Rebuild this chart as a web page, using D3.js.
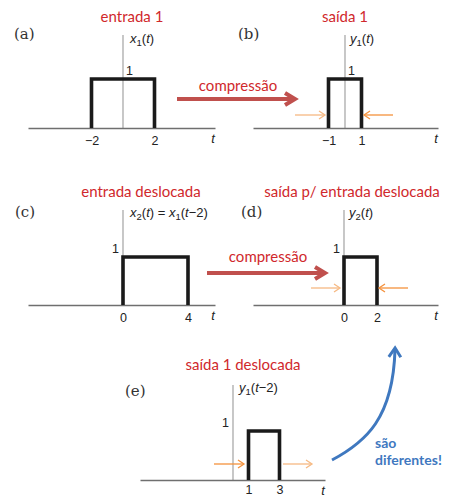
<!DOCTYPE html>
<html>
<head>
<meta charset="utf-8">
<script src="https://cdn.jsdelivr.net/npm/d3@7"></script>
<style>
  body { margin: 0; background: #fff; }
  svg { display: block; }
</style>
</head>
<body>
<script>
// Rectangular pulses and their time-axis ticks, one entry per panel
const panelIds = ["(a)", "(b)", "(c)", "(d)", "(e)"];
const panelTitles = ["entrada 1", "saída 1", "entrada deslocada", "saída p/ entrada deslocada", "saída 1 deslocada"];
const pulseStart = [-2, -1, 0, 0, 1];
const pulseEnd = [2, 1, 4, 2, 3];
const pulseHeight = [1, 1, 1, 1, 1];
const tickValues = [[-2, 2], [-1, 1], [0, 4], [0, 2], [1, 3]];
const amplitudeLabels = ["1", "1", "1", "1", "1"];
// signal names as [text, style] runs: i = italic, s = subscript
const signalNames = [
  [["x", "i"], ["1", "s"], ["(", ""], ["t", "i"], [")", ""]],
  [["y", "i"], ["1", "s"], ["(", ""], ["t", "i"], [")", ""]],
  [["x", "i"], ["2", "s"], ["(", ""], ["t", "i"], [") = ", ""], ["x", "i"], ["1", "s"], ["(", ""], ["t", "i"], ["−2)", ""]],
  [["y", "i"], ["2", "s"], ["(", ""], ["t", "i"], [")", ""]],
  [["y", "i"], ["1", "s"], ["(", ""], ["t", "i"], ["−2)", ""]]
];
const operationLabel = "compressão";
const remarkLines = ["são", "diferentes!"];

// Placement of each panel on the page
const layout = [
  { left: 28,  right: 215, origin: 123, unit: 15.75, base: 128, top: 79,  axisTop: 35,  oneSide: "right", pad: 8,   idX: 14,  idY: 39,  titleX: 132, titleY: 22,  nameX: 130, nameY: 43 },
  { left: 253, right: 438, origin: 345, unit: 16.5,  base: 128, top: 79,  axisTop: 35,  oneSide: "right", pad: 8,   idX: 238, idY: 39,  titleX: 345, titleY: 22,  nameX: 350, nameY: 43 },
  { left: 28,  right: 215, origin: 123, unit: 16.25, base: 305, top: 257, axisTop: 210, oneSide: "left",  pad: 8,   idX: 15,  idY: 217, titleX: 141, titleY: 197, nameX: 130, nameY: 217 },
  { left: 253, right: 438, origin: 344, unit: 16.5,  base: 305, top: 257, axisTop: 210, oneSide: "left",  pad: 8,   idX: 241, idY: 217, titleX: 352, titleY: 197, nameX: 349, nameY: 217 },
  { left: 140, right: 325, origin: 233, unit: 15.5,  base: 480, top: 431, axisTop: 385, oneSide: "left",  pad: 5.5, idX: 125, idY: 396, titleX: 243, titleY: 370, nameX: 239, nameY: 392 }
];

const W = 449, H = 498;
const RED_TEXT = "#d0282c", RED_ARROW = "#c0504d";
const ORANGE = "#f4913c", ORANGE_LIGHT = "#f6b983";
const BLUE = "#3f78bf";
const TITLE_FONT = "Lato, 'Open Sans', sans-serif";
const SANS = "'Liberation Sans', Arial, sans-serif";
const SERIF = "'DejaVu Serif', 'Liberation Serif', serif";

const svg = d3.select("body").append("svg")
  .attr("width", W).attr("height", H)
  .attr("viewBox", `0 0 ${W} ${H}`);

// straight arrow with an open chevron head
function arrow(g, x1, y1, x2, y2, color, width, headLen, headHalf) {
  const dx = x2 - x1, dy = y2 - y1, len = Math.hypot(dx, dy);
  const ux = dx / len, uy = dy / len;
  g.append("line")
    .attr("x1", x1).attr("y1", y1).attr("x2", x2 - ux * width * 0.5).attr("y2", y2 - uy * width * 0.5)
    .attr("stroke", color).attr("stroke-width", width);
  chevron(g, x2, y2, ux, uy, color, width, headLen, headHalf);
}

function chevron(g, x, y, ux, uy, color, width, headLen, headHalf) {
  const px = -uy, py = ux;
  const bx = x - ux * headLen, by = y - uy * headLen;
  g.append("path")
    .attr("d", `M${bx + px * headHalf},${by + py * headHalf}L${x},${y}L${bx - px * headHalf},${by - py * headHalf}`)
    .attr("fill", "none").attr("stroke", color).attr("stroke-width", width)
    .attr("stroke-linejoin", "miter").attr("stroke-linecap", "butt");
}

layout.forEach((L, i) => {
  const g = svg.append("g");
  const x = d3.scaleLinear()
    .domain([(L.left - L.origin) / L.unit, (L.right - L.origin) / L.unit])
    .range([L.left, L.right]);
  const y = d3.scaleLinear().domain([0, 1]).range([L.base, L.top]);

  // vertical axis
  g.append("line")
    .attr("x1", x(0)).attr("x2", x(0))
    .attr("y1", L.axisTop).attr("y2", y(0))
    .attr("stroke", "#9a9a9a").attr("stroke-width", 1.1);

  // time axis with the pulse edges as ticks
  const ax = g.append("g")
    .attr("transform", `translate(0,${y(0)})`)
    .call(d3.axisBottom(x).tickValues(tickValues[i]).tickSize(0).tickSizeOuter(0).tickPadding(L.pad)
      .tickFormat(d3.format("d")));
  ax.select(".domain").attr("stroke", "#6f6f6f").attr("stroke-width", 1.3);
  ax.selectAll("text").attr("font-family", SANS).attr("font-size", 12.5).attr("fill", "#222");

  g.append("text")
    .attr("x", L.right - 2).attr("y", y(0) + 15)
    .attr("text-anchor", "middle")
    .attr("font-family", SANS).attr("font-style", "italic").attr("font-size", 13).attr("fill", "#222")
    .text("t");

  // the pulse
  const p0 = pulseStart[i], p1 = pulseEnd[i], h = pulseHeight[i];
  const line = d3.line().x(d => x(d[0])).y(d => y(d[1]));
  g.append("path")
    .attr("d", line([[p0, 0], [p0, h], [p1, h], [p1, 0]]))
    .attr("fill", "none").attr("stroke", "#1a1a1a").attr("stroke-width", 3.6)
    .attr("stroke-linejoin", "miter");

  // amplitude label
  g.append("text")
    .attr("x", L.oneSide === "right" ? x(0) + 3 : x(0) - 4)
    .attr("y", y(h) - 4)
    .attr("text-anchor", L.oneSide === "right" ? "start" : "end")
    .attr("font-family", SANS).attr("font-size", 12.5).attr("fill", "#222")
    .text(amplitudeLabels[i]);

  // signal name
  const nm = g.append("text")
    .attr("x", L.nameX).attr("y", L.nameY)
    .attr("font-family", SANS).attr("font-size", 13).attr("fill", "#222");
  signalNames[i].forEach(([t, s], k) => {
    const ts = nm.append("tspan").text(t);
    if (s === "i") ts.attr("font-style", "italic");
    if (s === "s") ts.attr("font-size", 9.5).attr("dy", 3);
    else if (k > 0 && signalNames[i][k - 1][1] === "s") ts.attr("dy", -3);
  });

  // panel id
  g.append("text")
    .attr("x", L.idX).attr("y", L.idY)
    .attr("font-family", SERIF).attr("font-size", 15).attr("fill", "#333")
    .text(panelIds[i]);

  // panel title
  g.append("text")
    .attr("x", L.titleX).attr("y", L.titleY)
    .attr("text-anchor", "middle")
    .attr("font-family", TITLE_FONT).attr("font-size", 15).attr("fill", RED_TEXT)
    .text(panelTitles[i]);
});

// compression arrows between input and output panels
const ann = svg.append("g");
[[177, 295, 99, 238, 91], [207, 325, 273, 268, 262]].forEach(([xa, xb, ya, tx, ty]) => {
  arrow(ann, xa, ya, xb, ya, RED_ARROW, 4, 10, 6);
  ann.append("text")
    .attr("x", tx).attr("y", ty).attr("text-anchor", "middle")
    .attr("font-family", TITLE_FONT).attr("font-size", 15).attr("fill", RED_TEXT)
    .text(operationLabel);
});

// small orange arrows marking pulse edges
const edgeArrows = [
  [295, 325, 115, ORANGE_LIGHT], [393, 364, 115, ORANGE],
  [311, 340, 288, ORANGE_LIGHT], [408, 379, 288, ORANGE],
  [214, 244, 464, ORANGE], [283, 312, 464, ORANGE_LIGHT]
];
edgeArrows.forEach(([xa, xb, yy, c]) => arrow(ann, xa, yy, xb, yy, c, 1.3, 6, 4));

// curved blue arrow
const cp = [[332, 460], [366, 442], [393, 418], [395, 350]];
const cpath = d3.path();
cpath.moveTo(cp[0][0], cp[0][1]);
cpath.bezierCurveTo(cp[1][0], cp[1][1], cp[2][0], cp[2][1], cp[3][0], cp[3][1]);
ann.append("path").attr("d", cpath.toString())
  .attr("fill", "none").attr("stroke", BLUE).attr("stroke-width", 3);
{
  const dx = cp[3][0] - cp[2][0], dy = cp[3][1] - cp[2][1], l = Math.hypot(dx, dy);
  chevron(ann, cp[3][0] + dx / l * 2, cp[3][1] + dy / l * 2, dx / l, dy / l, BLUE, 3, 9, 6);
}
remarkLines.forEach((t, k) => {
  ann.append("text")
    .attr("x", 375).attr("y", 448 + k * 17)
    .attr("font-family", TITLE_FONT).attr("font-weight", "bold").attr("font-size", 14).attr("fill", BLUE)
    .text(t);
});
</script>
</body>
</html>
